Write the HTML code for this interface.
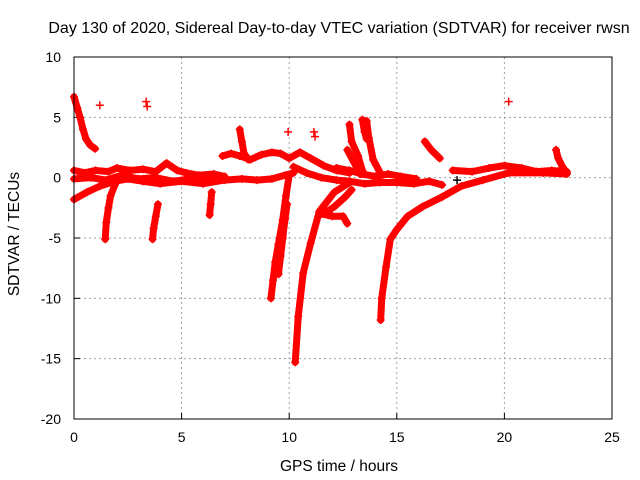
<!DOCTYPE html>
<html><head><meta charset="utf-8"><style>
body{margin:0;background:#fff;}
svg{display:block;font-family:"Liberation Sans",sans-serif;}
</style></head><body>
<svg id="chart" width="640" height="480" viewBox="0 0 640 480">
<rect width="640" height="480" fill="#fff"/>
<text x="339" y="33" font-size="16" text-anchor="middle">Day 130 of 2020, Sidereal Day-to-day VTEC variation (SDTVAR) for receiver rwsn</text>
<text x="339" y="471" font-size="15.5" text-anchor="middle">GPS time / hours</text>
<text x="19" y="234" font-size="15.5" text-anchor="middle" transform="rotate(-90 19 234)">SDTVAR / TECUs</text>
<g id="grid"></g><g id="ticks"></g><g id="marks"></g>
<rect x="74" y="57" width="538" height="362" fill="none" stroke="#000" stroke-width="1"/>
</svg>
<script>
const xTicks=[0,5,10,15,20,25];
const yTicks=[10,5,0,-5,-10,-15,-20];
const xMin=0,xMax=25,yMin=-20,yMax=10;
// tracks of [hour, SDTVAR]
const trackStart=[[0,6.7],[0.15,5.8],[0.28,5],[0.42,4],[0.56,3.2],[0.75,2.7],[0.98,2.4]];
const isolated=[[1.2,6.0],[3.35,6.3],[3.4,5.9],[20.2,6.3],[9.95,3.8],[11.15,3.8],[11.2,3.4],[17.8,-0.2]];
const bandUpper=[[0,0.6],[0.5,0.4],[1,0.6],[1.6,0.5],[2,0.8],[2.6,0.6],[3.2,0.7],[3.8,0.5],[4.3,1.2],[4.8,0.6],[5.2,0.4],[5.8,0.2],[6.5,0.3],[7,0.1]];
const bandCore=[[0,-0.1],[0.8,0],[1.5,-0.2],[2.2,0.2],[3,-0.1],[3.8,0],[4.6,-0.3],[5.4,-0.1],[6.2,-0.2],[6.9,-0.1]];
const bandLower=[[0,-1.8],[0.6,-1.2],[1.2,-0.7],[1.9,-0.3],[2.5,-0.1],[3.2,-0.3],[4,-0.5],[5,-0.3],[6,-0.5],[7,-0.2],[7.8,-0.1],[8.5,-0.2],[9.2,-0.1],[9.8,0.2],[10.2,0.4]];
const bandUpper2=[[6.9,1.8],[7.3,2.0],[7.7,1.8],[8.2,1.5],[8.7,1.9],[9.2,2.1],[9.6,2.0],[10.0,1.6],[10.5,2.1],[11.0,1.6],[11.6,1.0],[12.2,0.6],[12.8,0.4]];
const spike77=[[7.7,4.0],[7.8,3.0],[7.9,2.0],[8.1,1.5]];
const bandMid=[[10.2,0.9],[10.8,0.4],[11.5,0],[12.2,-0.2],[12.8,-0.3],[13.5,-0.5],[14.2,-0.4],[15,-0.4],[15.8,-0.5],[16.5,-0.3],[17.1,-0.6]];
const bandMid2=[[12.2,0.8],[12.8,0.6],[13.4,0.3],[14,0.1],[14.6,0.3],[15.2,0.1],[15.9,-0.1]];
const dive1=[[1.9,-0.6],[1.7,-1.5],[1.6,-2.5],[1.5,-3.7],[1.45,-5.1]];
const dive2=[[3.9,-2.2],[3.8,-3.2],[3.7,-4.2],[3.65,-5.1]];
const dive3=[[6.4,-1.2],[6.35,-2.2],[6.3,-3.1]];
const dive4=[[10.0,0.2],[9.85,-1.5],[9.7,-3.5],[9.5,-5.5],[9.35,-7],[9.25,-8.5],[9.15,-10]];
const dive5=[[9.9,-2.2],[9.8,-3.5],[9.7,-5],[9.6,-6.5],[9.5,-8]];
const diveBig=[[12.8,-0.4],[12.1,-1.2],[11.4,-2.8],[11.0,-5.4],[10.65,-7.9],[10.42,-11.5],[10.28,-15.3]];
const branch=[[11.5,-3.0],[12.0,-3.2],[12.5,-3.2],[12.7,-3.8]];
const branchDiag=[[11.6,-3.0],[12.1,-2.4],[12.6,-1.6],[12.9,-1.0]];
const diveRight=[[22.9,0.3],[21.8,0.4],[20.2,0.4],[19,-0.2],[18.0,-0.7],[17.1,-1.6],[16.2,-2.4],[15.5,-3.2],[15.0,-4.3],[14.7,-5.1],[14.5,-7.4],[14.3,-10],[14.25,-11.8]];
const bandRight=[[17.6,0.6],[18.5,0.5],[19.3,0.8],[20,1.0],[20.8,0.8],[21.5,0.5],[22.2,0.6],[22.9,0.5]];
const spike224=[[22.4,2.3],[22.5,1.6],[22.7,0.9],[22.9,0.4]];
const spike163=[[16.3,3.0],[16.6,2.3],[17.0,1.6]];
const spike134=[[13.4,4.8],[13.5,3.8],[13.6,3.2]];
const spike135=[[13.6,4.7],[13.7,3.3],[13.9,1.5],[14.2,0.5]];
const spike127=[[12.8,4.4],[12.9,3.0],[13.2,1.8],[13.4,0.6]];
const spike121=[[12.7,2.3],[13.0,1.3],[13.3,0.3]];
const tracks=[trackStart,bandUpper,bandCore,bandLower,bandUpper2,spike77,bandMid,bandMid2,dive1,dive2,dive3,dive4,dive5,diveBig,branch,branchDiag,diveRight,bandRight,spike224,spike163,spike134,spike135,spike127,spike121];
const trackNames=['track-start','band-upper','band-core','band-lower','band-upper-2','spike-7h','band-mid','band-mid-2','dive-1h','dive-4h','dive-6h','dive-9h','dive-9h-b','dive-10h','branch-12h','branch-diag','dive-14h','band-right','spike-22h','spike-16h','spike-13h','spike-13h-b','spike-12h','spike-12h-b'];

const X0=74,X1=612,Y0=57,Y1=419;
const sx=v=>X0+(v-xMin)/(xMax-xMin)*(X1-X0);
const sy=v=>Y1-(v-yMin)/(yMax-yMin)*(Y1-Y0);
const NS='http://www.w3.org/2000/svg';
const grid=document.getElementById('grid'),ticks=document.getElementById('ticks'),marks=document.getElementById('marks');
function mk(tag,attrs,parent){const e=document.createElementNS(NS,tag);for(const k in attrs)e.setAttribute(k,attrs[k]);parent.appendChild(e);return e;}
xTicks.forEach(t=>{
  const x=sx(t);
  if(t>xMin&&t<xMax){const g=mk('line',{x1:x,y1:Y0,x2:x,y2:Y1,stroke:'#a0a0a0','stroke-dasharray':'2,3'},grid);
  
  }
  const l=mk('text',{x:x,y:Y1+23,'font-size':'14','text-anchor':'middle'},ticks);l.textContent=t;
  
  
  mk('line',{x1:x,y1:Y1,x2:x,y2:Y1-6,stroke:'#000'},ticks);
});
yTicks.forEach(t=>{
  const y=sy(t);
  if(t>yMin&&t<yMax){const g=mk('line',{x1:X0,y1:y,x2:X1,y2:y,stroke:'#a0a0a0','stroke-dasharray':'2,3'},grid);
  
  }
  const l=mk('text',{x:X0-13,y:y+5,'font-size':'14','text-anchor':'end'},ticks);l.textContent=t;
  
  
  mk('line',{x1:X0,y1:y,x2:X0+6,y2:y,stroke:'#000'},ticks);
});
function plus(p,g,c){const x=sx(p[0]),y=sy(p[1]);mk('path',{d:`M${x-4} ${y}h8M${x} ${y-4}v8`,stroke:c,'stroke-width':'1.5',fill:'none'},g);}
tracks.forEach((tr,i)=>{
  const g=mk('g',{},marks);
  
  
  const pts=tr.map(p=>sx(p[0])+','+sy(p[1])).join(' ');
  mk('polyline',{points:pts,fill:'none',stroke:'#ff0000','stroke-width':'7','stroke-linejoin':'round','stroke-linecap':'round'},g);
  tr.forEach(p=>plus(p,g,'#ff0000'));
});
const iso=mk('g',{},marks);


isolated.forEach((p,i)=>plus(p,iso,i===7?'#000':'#ff0000'));
</script>
</body></html>
